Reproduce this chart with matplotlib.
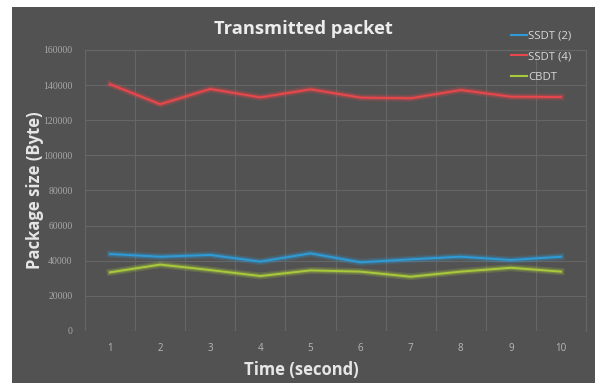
import matplotlib.pyplot as plt
import matplotlib.patheffects as pe
import numpy as np

# data
time_s = [1, 2, 3, 4, 5, 6, 7, 8, 9, 10]
ssdt_2 = [43800, 42300, 43300, 39500, 44200, 39100, 40800, 42300, 40400, 42300]
ssdt_4 = [140500, 129100, 137800, 133000, 137600, 132900, 132500, 137200, 133400, 133200]
cbdt = [33400, 37800, 34700, 31300, 34500, 33800, 30900, 33800, 36000, 33800]
series_names = ['SSDT (2)', 'SSDT (4)', 'CBDT']
series_colors = ['#2e9bd6', '#e8474b', '#a9c93c']
y_ticks = [0, 20000, 40000, 60000, 80000, 100000, 120000, 140000, 160000]

bg = '#525252'
plt.rcParams['font.family'] = ['Open Sans', 'DejaVu Sans']

fig = plt.figure(figsize=(6, 3.83), dpi=100, facecolor='white')
# dark panel with a thin white margin at top/left/right
panel = fig.add_axes([0.02, 0.0, 0.9717, 0.9817], zorder=-1)
panel.set_facecolor(bg)
panel.set_xticks([])
panel.set_yticks([])
for s in panel.spines.values():
    s.set_visible(False)

ax = fig.add_axes([0.1417, 0.1358, 0.835, 0.7337], zorder=1)
ax.patch.set_alpha(0)

for vals, name, col in zip([ssdt_2, ssdt_4, cbdt], series_names, series_colors):
    ax.plot(time_s, vals, color=col, lw=1.4, label=name, zorder=3,
            path_effects=[pe.Stroke(linewidth=5, foreground=col, alpha=0.2),
                          pe.Stroke(linewidth=3, foreground=col, alpha=0.3),
                          pe.Normal()])

ax.set_xlim(0.5, 10.5)
ax.set_ylim(0, 160000)
ax.set_xticks(time_s)
ax.set_xticks(np.arange(0.5, 11, 1), minor=True)
ax.set_yticks(y_ticks)
ax.set_yticklabels([str(v) for v in y_ticks], family='Liberation Serif')
ax.grid(which='minor', axis='x', color='#666666', lw=0.8)
ax.grid(which='major', axis='y', color='#666666', lw=0.8)
ax.tick_params(which='both', length=0)
ax.tick_params(axis='y', labelsize=7, colors='#a8a8a8', pad=9)
ax.tick_params(axis='x', labelsize=7, colors='#b8b8b8', pad=9)
for s in ax.spines.values():
    s.set_visible(False)
ax.spines['top'].set_visible(True)
ax.spines['top'].set_color('#666666')
ax.spines['right'].set_visible(True)
ax.spines['right'].set_color('#666666')

ax.set_ylabel('Package size (Byte)', fontsize=12, fontweight='bold', color='#e6e6e6',
              va='center')
ax.yaxis.set_label_coords(-0.1, 0.5)
fig.text(0.502, 0.034, 'Time (second)', ha='center', va='center',
         fontsize=12, fontweight='bold', color='#e6e6e6')
fig.text(0.506, 0.925, 'Transmitted packet', ha='center', va='center',
         fontsize=13.2, fontweight='bold', color='#ececec')

leg = ax.legend(loc='upper left', bbox_to_anchor=(0.83, 1.105), frameon=False,
                fontsize=8.2, labelcolor='#d8d8d8', handlelength=1.4, handletextpad=0.1,
                labelspacing=0.85)
for line in leg.get_lines():
    line.set_path_effects([])
    line.set_linewidth(1.5)

fig.savefig('out.png', dpi=100, facecolor='white')
